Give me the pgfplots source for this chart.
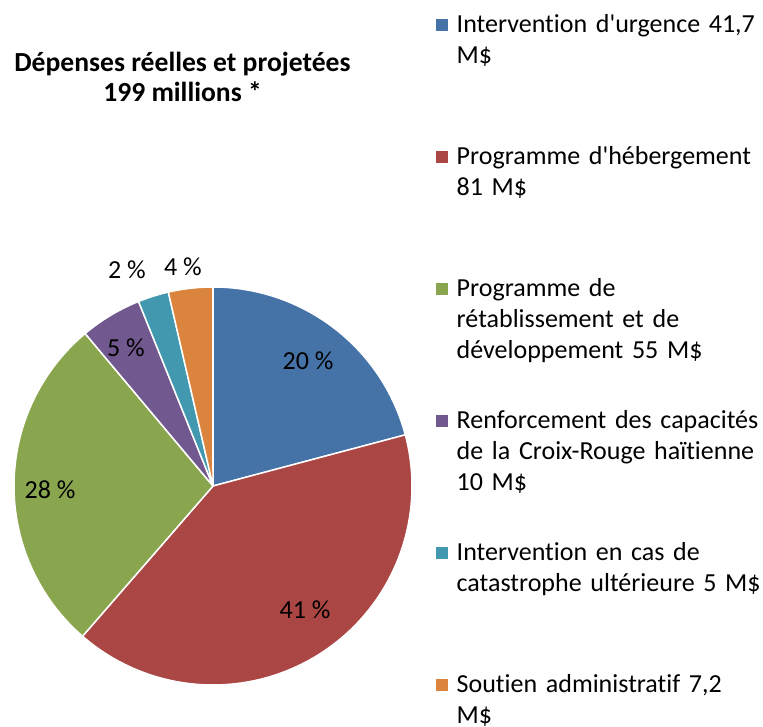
\documentclass[border=0pt]{standalone}
\usepackage{fontspec}
\setmainfont{Carlito}[Ligatures={TeX,NoCommon}]
\usepackage{pgfplots}
\pgfplotsset{compat=1.18}
\definecolor{cA}{HTML}{4572A7}
\definecolor{cB}{HTML}{AA4643}
\definecolor{cC}{HTML}{89A54E}
\definecolor{cD}{HTML}{71588F}
\definecolor{cE}{HTML}{4198AF}
\definecolor{cF}{HTML}{DB843D}
% values in M$
\def\vA{41.7}\def\vB{81}\def\vC{55}\def\vD{10}\def\vE{5}\def\vF{7.2}
\pgfmathsetmacro\total{\vA+\vB+\vC+\vD+\vE+\vF}
\pgfmathsetmacro\aA{90}
\pgfmathsetmacro\aB{\aA-\vA/\total*360}
\pgfmathsetmacro\aC{\aB-\vB/\total*360}
\pgfmathsetmacro\aD{\aC-\vC/\total*360}
\pgfmathsetmacro\aE{\aD-\vD/\total*360}
\pgfmathsetmacro\aF{\aE-\vE/\total*360}
\pgfmathsetmacro\aG{\aF-\vF/\total*360}
\def\R{199}
\newcommand\q{\textquotesingle}
\begin{document}
\begin{tikzpicture}
\useasboundingbox (0,0) rectangle (763pt,727pt);
\node[font=\bfseries\fontsize{27.6}{30}\selectfont, anchor=base] at (182.5pt,655pt) {Dépenses réelles et projetées};
\node[font=\bfseries\fontsize{27.6}{30}\selectfont, anchor=base] at (182.5pt,625pt) {199 millions *};
\begin{axis}[
  at={(213pt,241pt)}, anchor=origin,
  x=1pt, y=1pt,
  xmin=-199, xmax=199, ymin=-199, ymax=199,
  hide axis, clip=false,
  legend image code/.code={\fill[#1] (0pt,0pt) rectangle (14pt,14pt);},
  legend style={at={(axis cs:221,476)}, anchor=north west, draw=none, fill=none,
    inner sep=0pt, column sep=7pt, row sep=0pt,
    font=\fontsize{26}{31.3}\selectfont,
    cells={anchor=base west},
    nodes={inner sep=0pt, text width=330pt, align=left, text height=22pt, text depth=110pt}},
]
\addplot[fill=cA, draw=white, line width=1.5pt, line join=round, domain=\aB:\aA, samples=80] ({\R*cos(x)},{\R*sin(x)}) -- (axis cs:0,0) -- cycle;
\addlegendentry{Intervention d\q urgence 41,7\\M\$}
\addplot[fill=cB, draw=white, line width=1.5pt, line join=round, domain=\aC:\aB, samples=120] ({\R*cos(x)},{\R*sin(x)}) -- (axis cs:0,0) -- cycle;
\addlegendentry{Programme d\q hébergement\\81 M\$}
\addplot[fill=cC, draw=white, line width=1.5pt, line join=round, domain=\aD:\aC, samples=100] ({\R*cos(x)},{\R*sin(x)}) -- (axis cs:0,0) -- cycle;
\addlegendentry{Programme de\\rétablissement et de\\développement 55 M\$}
\addplot[fill=cD, draw=white, line width=1.5pt, line join=round, domain=\aE:\aD, samples=30] ({\R*cos(x)},{\R*sin(x)}) -- (axis cs:0,0) -- cycle;
\addlegendentry{Renforcement des capacités\\de la Croix-Rouge haïtienne\\10 M\$}
\addplot[fill=cE, draw=white, line width=1.5pt, line join=round, domain=\aF:\aE, samples=20] ({\R*cos(x)},{\R*sin(x)}) -- (axis cs:0,0) -- cycle;
\addlegendentry{Intervention en cas de\\catastrophe ultérieure 5 M\$}
\addplot[fill=cF, draw=white, line width=1.5pt, line join=round, domain=\aG:\aF, samples=20] ({\R*cos(x)},{\R*sin(x)}) -- (axis cs:0,0) -- cycle;
\addlegendentry{Soutien administratif 7,2\\M\$}
\begin{scope}[every node/.style={font=\fontsize{26}{31.5}\selectfont, inner sep=0pt}]
\node at (axis cs:95,125) {20 \%};
\node at (axis cs:92,-124) {41 \%};
\node at (axis cs:-163,-4) {28 \%};
\node at (axis cs:-87,138) {5 \%};
\node at (axis cs:-86,216) {2 \%};
\node at (axis cs:-30,219) {4 \%};
\end{scope}
\end{axis}
\end{tikzpicture}
\end{document}
